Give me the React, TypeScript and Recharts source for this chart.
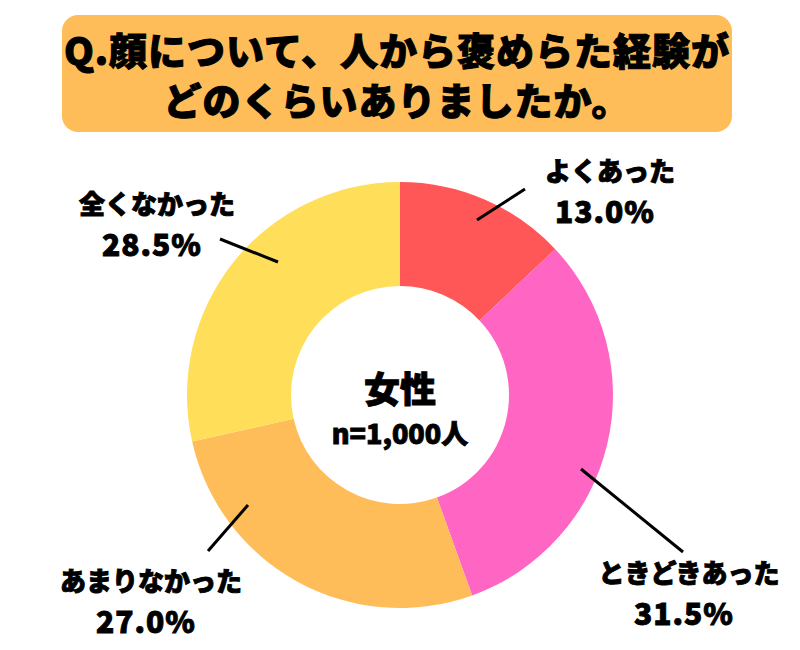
import React from 'react';
import { PieChart, Pie, Cell } from 'recharts';

const categories = ['よくあった', 'ときどきあった', 'あまりなかった', '全くなかった'];
const shares = [13.0, 31.5, 27.0, 28.5];
const colors = ['#FF5757', '#FF66C4', '#FFBD59', '#FFDE59'];

const title = ['Q.顔について、人から褒めらた経験が', 'どのくらいありましたか。'];
const centerTitle = '女性';
const centerNote = 'n=1,000人';

const data = categories.map((name, i) => ({ name, value: shares[i] }));

const FONT = '"Noto Sans CJK JP", "Noto Sans", sans-serif';

// leader line (start, end) and text anchor, relative to the pie centre
const layout = [
  { s: [77, -175], e: [125, -206], t: [210, -226] },
  { s: [181, 74], e: [283, 157], t: [289, 176] },
  { s: [-152, 110], e: [-192, 156], t: [-249, 184] },
  { s: [-122, -133], e: [-180, -156], t: [-243, -193] },
];

const bold = { fontFamily: FONT, fontWeight: 900, fill: '#000', stroke: '#000', strokeWidth: 0.9 };

const renderLabel = (props: any) => {
  const { cx, cy, index, name, value } = props;
  const l = layout[index];
  return (
    <g key={`lbl-${index}`}>
      {index === 0 && (
        <g>
          <text x={cx} y={cy - 8} textAnchor="middle" dominantBaseline="central" fontSize={36} {...bold}>
            {centerTitle}
          </text>
          <text x={cx} y={cy + 37} textAnchor="middle" dominantBaseline="central" fontSize={27} {...bold}>
            {centerNote}
          </text>
        </g>
      )}
      <line
        x1={cx + l.s[0]}
        y1={cy + l.s[1]}
        x2={cx + l.e[0]}
        y2={cy + l.e[1]}
        stroke="#000"
        strokeWidth={3}
      />
      <text
        x={cx + l.t[0]}
        y={cy + l.t[1]}
        textAnchor="middle"
        dominantBaseline="central"
        fontSize={26}
        {...bold}
      >
        {name}
      </text>
      <text
        x={cx + l.t[0] - 5}
        y={cy + l.t[1] + 41}
        textAnchor="middle"
        dominantBaseline="central"
        fontSize={30}
        letterSpacing={1}
        {...bold}
      >
        {`${value.toFixed(1)}%`}
      </text>
    </g>
  );
};

export default function App() {
  return (
    <div style={{ position: 'absolute', left: 0, top: 0, width: 800, height: 650, background: '#fff' }}>
      <div
        style={{
          position: 'absolute',
          left: 62,
          top: 15,
          width: 670,
          height: 117,
          background: '#FFBD59',
          borderRadius: 16,
          display: 'flex',
          flexDirection: 'column',
          alignItems: 'center',
          justifyContent: 'center',
          fontFamily: FONT,
          fontWeight: 900,
          fontSize: 38,
          letterSpacing: 1,
          lineHeight: '50px',
          color: '#000',
          WebkitTextStroke: '1px #000',
        }}
      >
        {title.map((t) => (
          <div key={t}>{t}</div>
        ))}
      </div>
      <div style={{ position: 'absolute', left: 0, top: 0 }}>
        <PieChart width={800} height={650}>
          <Pie
            data={data}
            dataKey="value"
            nameKey="name"
            cx={395}
            cy={390}
            innerRadius={109}
            outerRadius={213}
            startAngle={90}
            endAngle={-270}
            stroke="none"
            label={renderLabel}
            labelLine={false}
            isAnimationActive={false}
          >
            {data.map((d, i) => (
              <Cell key={d.name} fill={colors[i]} />
            ))}
          </Pie>
        </PieChart>
      </div>
    </div>
  );
}
